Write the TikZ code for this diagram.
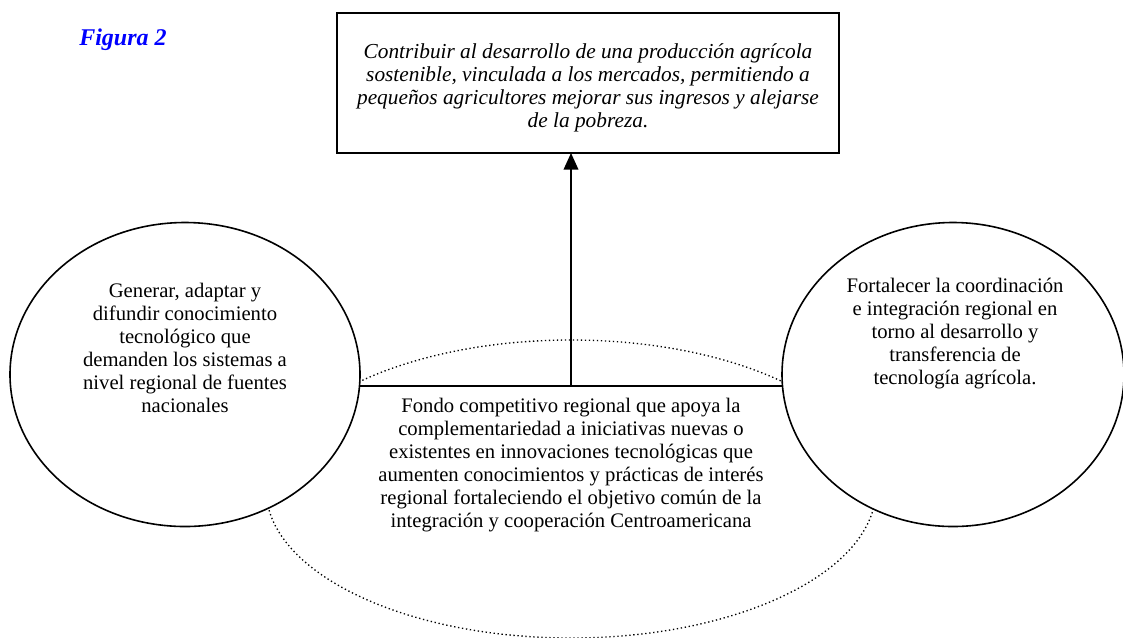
\documentclass[tikz,border=0pt]{standalone}
\usepackage{fontspec}
\setmainfont{Liberation Serif}
\usetikzlibrary{arrows.meta,positioning,shapes.geometric}
\definecolor{figblue}{RGB}{0,0,255}
\begin{document}
\begin{tikzpicture}[x=0.75pt,y=-0.75pt,
  txt/.style={font=\fontsize{15.5}{17.25}\selectfont,align=center,inner sep=0pt},
  oval/.style={draw,ellipse,line width=1.2pt,fill=white,inner sep=0pt,outer sep=0pt},
  arr/.style={-{Triangle[width=11pt,length=12.5pt]},line width=1.2pt}]
  \useasboundingbox (0,0) rectangle (1123,637);
  % Title
  \node[font=\fontsize{18}{21}\selectfont\bfseries\itshape,text=figblue,anchor=base west,inner sep=0pt] (fig) at (79,45) {Figura 2};
  % Regional fund (dotted)
  \node[draw,ellipse,dotted,line width=1pt,minimum width=457.5pt,minimum height=223.5pt,inner sep=0pt] (fondo) at (571,489) {};
  % Side objectives
  \node[oval,minimum width=262.5pt,minimum height=228pt] (gen) at (185,374.5) {};
  \node[oval,minimum width=256.5pt,minimum height=228pt] (fort) at (953,374.5) {};
  % Goal box
  \node[draw,line width=1.2pt,minimum width=376.5pt,minimum height=105pt,inner sep=0pt,outer sep=0pt] (meta) at (588,83) {};
  % Texts
  \node[txt,font=\fontsize{16}{17.25}\selectfont\itshape] (metatxt) at (588,88) {Contribuir al desarrollo de una producción agrícola\\sostenible, vinculada a los mercados, permitiendo a\\pequeños agricultores mejorar sus ingresos y alejarse\\de la pobreza.};
  \node[txt] (gentxt) at (185,347.5) {Generar, adaptar y\\difundir conocimiento\\tecnológico que\\demanden los sistemas a\\nivel regional de fuentes\\nacionales};
  \node[txt] (forttxt) at (955,334) {Fortalecer la coordinación\\e integración regional en\\torno al desarrollo y\\transferencia de\\tecnología agrícola.};
  \node[txt] (fondotxt) at (571,465) {Fondo competitivo regional que apoya la\\complementariedad a iniciativas nuevas o\\existentes en innovaciones tecnológicas que\\aumenten conocimientos y prácticas de interés\\regional fortaleciendo el objetivo común de la\\integración y cooperación Centroamericana};
  % Links
  \coordinate (mid) at (571,386);
  \draw[line width=1.2pt] (gen.east |- mid) -- (fort.west |- mid);
  \draw[arr] (mid) -- (meta.south -| mid);
\end{tikzpicture}
\end{document}
